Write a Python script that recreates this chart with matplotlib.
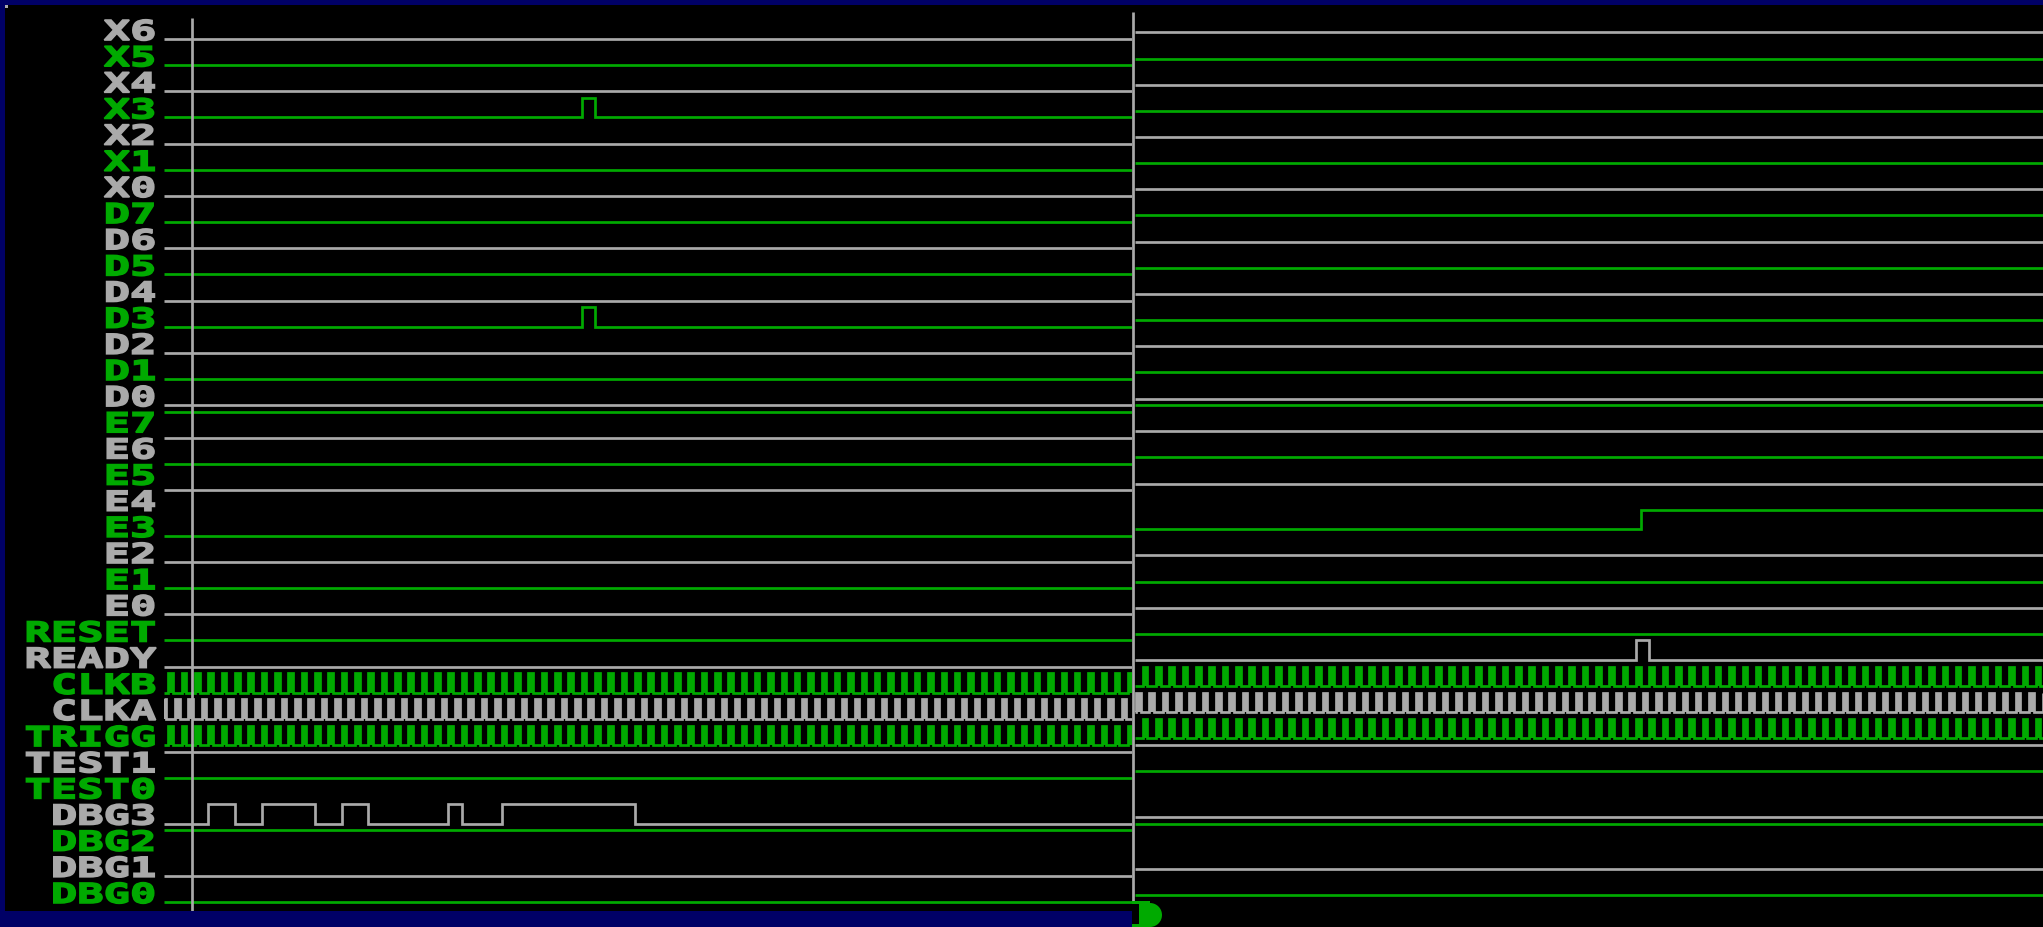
"""Two-window logic analyser capture: 34 digital channels over two time windows.

Each channel is stored as its level at the start of the window plus the
sample indices where it toggles. The three clock lines are periodic and are
described by period, high time and phase.
"""

import numpy as np
import matplotlib

matplotlib.use("Agg")
import matplotlib.pyplot as plt
from matplotlib import patheffects
from matplotlib.patches import Polygon, Rectangle
from matplotlib.transforms import Affine2D

# ---------------------------------------------------------------- data
channels = [
    "X6", "X5", "X4", "X3", "X2", "X1", "X0",
    "D7", "D6", "D5", "D4", "D3", "D2", "D1", "D0",
    "E7", "E6", "E5", "E4", "E3", "E2", "E1", "E0",
    "RESET", "READY", "CLKB", "CLKA", "TRIGG",
    "TEST1", "TEST0", "DBG3", "DBG2", "DBG1", "DBG0",
]

# level of every channel at the first sample of each window (1 = high)
left_initial = [0, 0, 0, 0, 0, 0, 0,
                0, 0, 0, 0, 0, 0, 0, 0,
                1, 1, 1, 1, 0, 0, 0, 0,
                0, 0, 0, 0, 0,
                1, 1, 0, 1, 0, 0]
right_initial = [0, 0, 0, 0, 0, 0, 0,
                 0, 0, 0, 0, 0, 0, 0, 0,
                 1, 1, 1, 1, 0, 0, 0, 0,
                 0, 0, 0, 0, 0,
                 1, 1, 0, 1, 0, 0]

# toggle positions, in samples
left_edges = {
    "X3": [188, 194],
    "D3": [188, 194],
    "DBG3": [20, 32, 44, 68, 80, 92, 128, 134, 152, 212],
}
right_edges = {
    "E3": [226],
    "READY": [224, 230],
}

# clocks: 6 samples per cycle, high for 2
clock_period = 6
clock_high = 2
clock_phase = {"CLKB": 2, "CLKA": 5, "TRIGG": 2}

# sample range shown in each window and cursor positions
left_window = (0.0, 435.6)
right_window = (-1.5, 407.1)
left_cursor = 12.5
right_cursor = -2.27

# ---------------------------------------------------------------- layout
W, H = 2043, 928
SAMPLE_PX = 2.222        # horizontal size of one sample
ROW_PX = 26.15           # channel pitch
HIGH = 0.746             # high level, in rows above the baseline
LW = 1.95                # trace width in points

NAVY = "#000066"
GRAY = "#aaaaaa"
GREEN = "#00aa00"

LEFT_X0, LEFT_Y0 = 164, 40.0      # first sample / first baseline (px)
RIGHT_X0, RIGHT_Y0 = 1135, 33.4

CHAR_PITCH = 26.4
FONT_PT = 19.7


class _Stretch(patheffects.AbstractPathEffect):
    """Widen and embolden text glyphs around the text origin."""

    def __init__(self, sx, stroke=1.0):
        super().__init__()
        self._sx = sx
        self._stroke = stroke

    def draw_path(self, renderer, gc, tpath, affine, rgbFace=None):
        gc0 = renderer.new_gc()
        gc0.copy_properties(gc)
        gc0.set_linewidth(self._stroke)
        gc0.set_foreground(rgbFace)
        gc0.set_joinstyle("miter")
        renderer.draw_path(gc0, tpath, Affine2D().scale(self._sx, 1.0) + affine, rgbFace)
        gc0.restore()


def _clock_edges(name, t0, t1):
    phase = clock_phase[name]
    k0 = int(np.floor((t0 - phase) / clock_period)) - 1
    k1 = int(np.ceil((t1 - phase) / clock_period)) + 1
    rises = phase + clock_period * np.arange(k0, k1)
    edges = np.sort(np.concatenate([rises, rises + clock_high]))
    level = 1 if ((t0 - phase) % clock_period) < clock_high else 0
    return level, [e for e in edges if t0 < e < t1]


def _draw_trace(ax, row, level, edges, window, color, filled=False):
    t0, t1 = window
    xs, ys = [t0], [level]
    for e in edges:
        if t0 < e < t1:
            xs += [e, e]
            ys += [level, 1 - level]
            level = 1 - level
    xs.append(t1)
    ys.append(level)
    yv = row - HIGH * np.asarray(ys, dtype=float)
    ax.plot(xs, yv, color=color, lw=LW,
            solid_capstyle="butt", solid_joinstyle="miter")
    if filled:
        # clock pulses are shown as solid bars
        ax.fill_between(xs, row, yv, color=color, lw=0)


def _draw_window(ax, initial, edges, window):
    for row, name in enumerate(channels):
        color = GRAY if row % 2 == 0 else GREEN
        if name in clock_phase:
            level, ch_edges = _clock_edges(name, *window)
            _draw_trace(ax, row, level, ch_edges, window, color, filled=True)
        else:
            _draw_trace(ax, row, initial[row], edges.get(name, []), window, color)


def _pane(fig, x0, y0, x1, y1, px_origin, row_origin, t_origin):
    """Black axes covering pixels (x0, y0)-(x1, y1), y measured downwards."""
    ax = fig.add_axes([x0 / W, 1 - y1 / H, (x1 - x0) / W, (y1 - y0) / H])
    ax.set_facecolor("black")
    ax.set_xlim(t_origin + (x0 - px_origin) / SAMPLE_PX,
                t_origin + (x1 - px_origin) / SAMPLE_PX)
    ax.set_ylim((y1 - row_origin) / ROW_PX, (y0 - row_origin) / ROW_PX)
    ax.set_xticks([])
    ax.set_yticks([])
    for spine in ax.spines.values():
        spine.set_visible(False)
    return ax


fig = plt.figure(figsize=(W / 100, H / 100), dpi=100, facecolor=NAVY)
px = Affine2D().scale(1 / W, -1 / H).translate(0, 1) + fig.transFigure

ax_l = _pane(fig, 5, 6, 1132, 912, LEFT_X0, LEFT_Y0, left_window[0])
ax_r = _pane(fig, 1132, 6, W, H, RIGHT_X0, RIGHT_Y0, right_window[0])

_draw_window(ax_l, left_initial, left_edges, left_window)
_draw_window(ax_r, right_initial, right_edges, right_window)

# cursors
ax_l.plot([left_cursor, left_cursor], [-0.80, 33.4], color=GRAY, lw=LW,
          solid_capstyle="butt")
ax_r.plot([right_cursor, right_cursor], [-0.78, 33.25], color=GRAY, lw=LW,
          solid_capstyle="butt")

# channel names, right aligned in fixed-width cells
stretch = _Stretch(1.6, stroke=1.2)
for row, name in enumerate(channels):
    x_px = 156.5 - CHAR_PITCH * len(name)
    ax_l.text(left_window[0] + (x_px - LEFT_X0) / SAMPLE_PX, row + 1.0 / ROW_PX, name,
              color=GRAY if row % 2 == 0 else GREEN,
              fontfamily="DejaVu Sans Mono", fontweight="bold", fontsize=FONT_PT,
              ha="left", va="baseline", path_effects=[stretch])

# trigger marker under the second window
theta = np.linspace(np.pi / 2, -np.pi / 2, 24)
marker = np.column_stack([1150 + 12 * np.cos(theta), 916 - 12 * np.sin(theta)])
marker = np.vstack([[1139, 904], marker, [1139, 928]])
fig.add_artist(Polygon(marker, closed=True, color=GREEN, transform=px, lw=0))
fig.add_artist(Rectangle((1132, 902), 18, 3, color=GREEN, transform=px, lw=0))
fig.add_artist(Rectangle((1132, 925), 7, 3, color=GREEN, transform=px, lw=0))
fig.add_artist(Rectangle((5, 6), 3, 3, color=GRAY, transform=px, lw=0))

fig.savefig("out.png", dpi=100, facecolor=fig.get_facecolor())
